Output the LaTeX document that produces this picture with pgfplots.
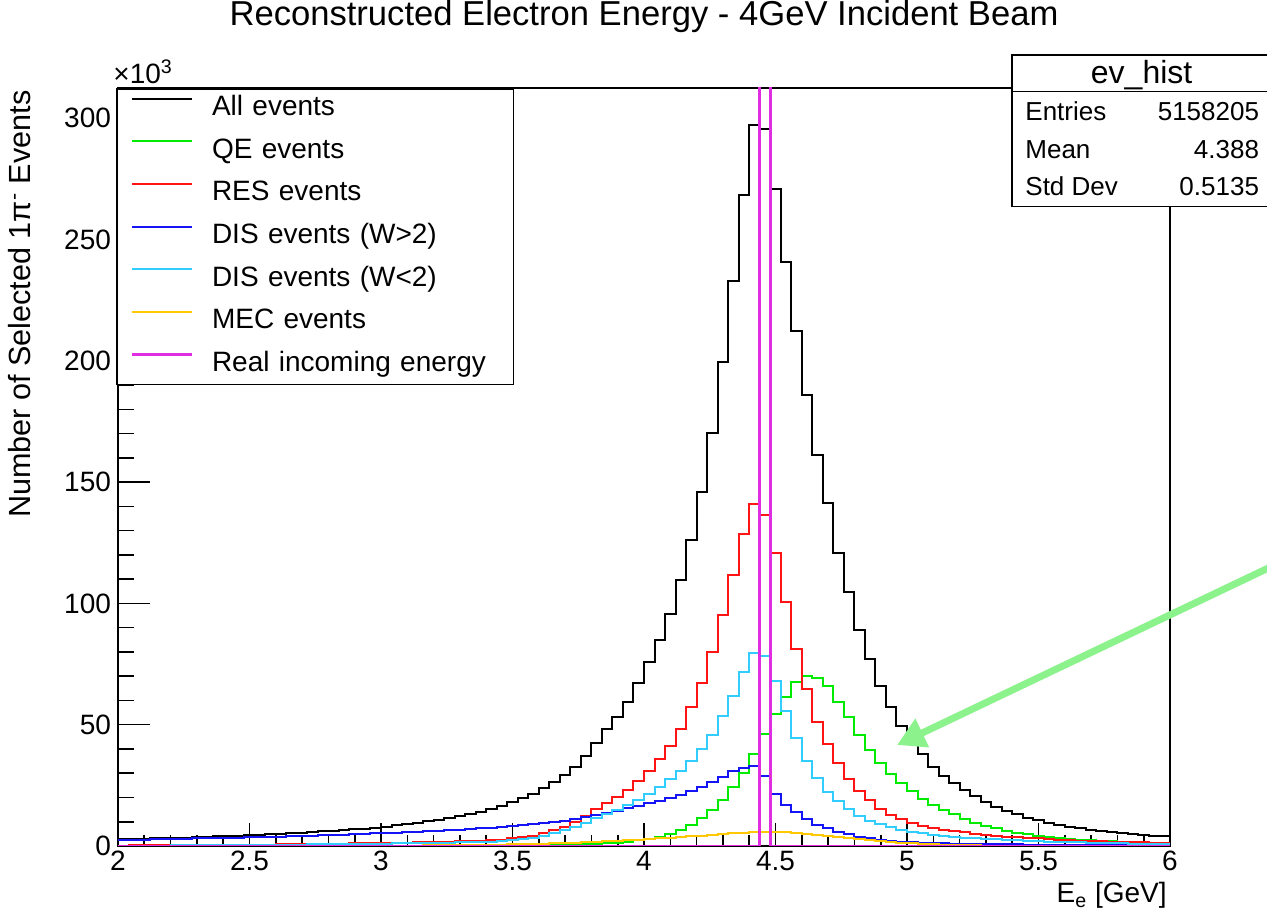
\documentclass[border=0pt]{standalone}
\usepackage{pgfplots}
\pgfplotsset{compat=1.18}
\usepackage{pgfplotstable}
\usepackage{fontspec}
\setmainfont{Liberation Sans}
\usetikzlibrary{arrows.meta}

\definecolor{rgreen}{RGB}{0,235,0}
\definecolor{rred}{RGB}{255,20,20}
\definecolor{rblue}{RGB}{20,20,245}
\definecolor{rcyan}{RGB}{50,205,255}
\definecolor{rorange}{RGB}{255,200,0}
\definecolor{rmagenta}{RGB}{225,45,225}
\definecolor{arrowgreen}{RGB}{140,242,140}

\pgfplotstableread{
x      all    qe     res    dish   disl   mec
2.00   2.8    0.01   0.20   2.4    0.15   0.00
2.04   2.9    0.01   0.21   2.5    0.16   0.00
2.08   3.0    0.01   0.22   2.6    0.17   0.00
2.12   3.1    0.01   0.24   2.7    0.18   0.00
2.16   3.3    0.01   0.26   2.8    0.20   0.00
2.20   3.4    0.01   0.28   2.9    0.22   0.00
2.24   3.5    0.01   0.30   3.0    0.24   0.00
2.28   3.7    0.01   0.33   3.1    0.26   0.01
2.32   3.8    0.01   0.36   3.2    0.28   0.01
2.36   4.0    0.01   0.39   3.3    0.30   0.01
2.40   4.2    0.01   0.42   3.4    0.33   0.01
2.44   4.3    0.01   0.46   3.5    0.36   0.02
2.48   4.5    0.01   0.50   3.6    0.39   0.02
2.52   4.7    0.01   0.55   3.7    0.42   0.02
2.56   4.9    0.01   0.60   3.8    0.46   0.03
2.60   5.1    0.01   0.65   3.9    0.50   0.03
2.64   5.3    0.01   0.70   4.0    0.54   0.04
2.68   5.5    0.01   0.75   4.1    0.58   0.05
2.72   5.7    0.01   0.80   4.2    0.62   0.06
2.76   6.0    0.01   0.86   4.4    0.67   0.07
2.80   6.2    0.01   0.92   4.5    0.72   0.08
2.84   6.5    0.01   0.98   4.7    0.77   0.09
2.88   6.8    0.01   1.04   4.9    0.82   0.10
2.92   7.1    0.01   1.10   5.0    0.88   0.11
2.96   7.5    0.01   1.16   5.2    0.94   0.12
3.00   8.0    0.02   1.22   5.3    1.00   0.14
3.04   8.5    0.02   1.30   5.5    1.06   0.16
3.08   9.0    0.03   1.38   5.7    1.12   0.18
3.12   9.5    0.03   1.46   5.9    1.19   0.20
3.16   10.1   0.04   1.55   6.1    1.26   0.23
3.20   10.7   0.05   1.65   6.3    1.34   0.26
3.24   11.4   0.05   1.76   6.5    1.42   0.30
3.28   12.2   0.06   1.88   6.7    1.50   0.34
3.32   13.1   0.07   2.00   7.0    1.60   0.38
3.36   14.1   0.08   2.15   7.3    1.70   0.43
3.40   15.2   0.10   2.35   7.6    1.82   0.49
3.44   16.5   0.15   2.60   7.9    2.00   0.56
3.48   18.0   0.20   3.10   8.2    2.40   0.64
3.52   19.7   0.25   3.60   8.6    2.90   0.72
3.56   21.6   0.30   4.30   9.0    3.50   0.82
3.60   23.8   0.35   5.30   9.4    4.30   0.93
3.64   26.3   0.40   6.50   9.9    5.30   1.05
3.68   29.2   0.50   8.00   10.5   6.50   1.18
3.72   32.7   0.60   9.80   11.2   7.90   1.33
3.76   37.2   0.70   12.2   12.0   9.50   1.50
3.80   42.6   0.80   15.1   12.8   11.4   1.68
3.84   48.1   1.1    17.6   13.7   13.1   1.88
3.88   53.3   1.4    20.1   14.6   15.0   2.10
3.92   59.5   1.8    23.1   15.6   16.9   2.33
3.96   67.3   2.3    26.8   16.6   19.0   2.58
4.00   75.7   3.0    30.9   17.6   21.3   2.85
4.04   84.8   3.8    35.7   18.7   24.2   3.12
4.08   95.5   4.9    41.2   19.8   27.5   3.40
4.12   109.6  6.6    48.4   21.1   31.0   3.70
4.16   126.1  8.7    57.4   22.6   35.2   4.00
4.20   145.8  11.4   67.3   24.3   40.0   4.30
4.24   170.1  14.8   80.1   26.3   45.8   4.60
4.28   199.6  19.0   95.2   28.6   53.7   4.90
4.32   232.9  24.2   111.9  30.9   61.8   5.20
4.36   268.5  30.2   128.5  32.3   71.8   5.45
4.40   297.2  37.9   140.8  33.0   79.7   5.65
4.44   295.4  46.0   136.3  29.0   78.2   5.80
4.48   271.0  54.5   120.6  21.5   68.0   5.75
4.52   240.6  61.5   100.7  16.9   55.8   5.60
4.56   212.2  67.7   81.0   13.9   44.4   5.35
4.60   185.8  70.1   64.6   11.0   35.2   5.00
4.64   161.3  69.2   51.1   8.7    27.9   4.60
4.68   141.3  66.0   41.9   7.3    22.4   4.20
4.72   120.8  59.5   34.3   5.9    18.5   3.75
4.76   104.6  53.3   27.6   4.8    15.1   3.30
4.80   88.9   45.8   22.7   3.8    12.4   2.85
4.84   77.0   39.6   19.0   3.2    10.4   2.45
4.88   66.0   34.3   15.1   2.5    8.9    2.05
4.92   57.2   29.7   12.8   2.1    7.7    1.70
4.96   49.5   25.8   11.0   1.8    6.6    1.40
5.00   42.3   22.7   9.3    1.5    5.8    1.12
5.04   37.8   19.2   8.2    1.3    5.2    0.90
5.08   32.7   16.9   7.3    1.2    4.5    0.72
5.12   29.0   14.8   6.7    1.1    4.1    0.56
5.16   25.8   13.0   6.2    1.0    3.8    0.44
5.20   23.1   11.0   5.6    0.90   3.5    0.34
5.24   20.6   9.6    5.1    0.85   3.2    0.26
5.28   18.3   8.2    4.7    0.80   2.9    0.20
5.32   16.2   7.3    4.3    0.75   2.7    0.15
5.36   14.4   6.3    3.9    0.70   2.5    0.11
5.40   13.1   5.5    3.6    0.65   2.3    0.08
5.44   11.7   4.8    3.3    0.60   2.1    0.06
5.48   10.7   4.3    3.1    0.58   1.9    0.05
5.52   9.6    3.7    2.8    0.55   1.8    0.04
5.56   8.7    3.3    2.6    0.52   1.7    0.03
5.60   8.0    2.9    2.4    0.50   1.6    0.03
5.64   7.3    2.6    2.2    0.48   1.5    0.02
5.68   6.6    2.3    2.1    0.46   1.4    0.02
5.72   6.2    2.1    1.9    0.44   1.3    0.02
5.76   5.6    1.9    1.8    0.42   1.2    0.01
5.80   5.2    1.8    1.7    0.40   1.1    0.01
5.84   4.8    1.6    1.6    0.38   1.0    0.01
5.88   4.5    1.5    1.5    0.36   0.95   0.01
5.92   4.3    1.4    1.4    0.35   0.90   0.01
5.96   4.0    1.3    1.3    0.34   0.85   0.01
6.00   4.0    1.3    1.3    0.34   0.85   0.01
}\histdata

\pgfplotstableread{
x     real
2.00  0
4.44  5158.2
4.48  0
6.00  0
}\realdata

\begin{document}
\begin{tikzpicture}
\useasboundingbox (-59pt,-33.5pt) rectangle (574.5pt,423pt);
\begin{axis}[
  at={(0pt,0pt)}, anchor=south west,
  scale only axis, width=526pt, height=379pt,
  xmin=2, xmax=6, ymin=0, ymax=312.45,
  clip mode=individual,
  axis line style={line width=0.9pt, black},
  xtick={2,2.5,...,6}, ytick={0,50,...,300},
  xticklabels={2,2.5,3,3.5,4,4.5,5,5.5,6},
  minor x tick num=4, minor y tick num=4,
  xtick pos=bottom, ytick pos=left,
  tick align=inside,
  tick style={line width=0.8pt, black},
  xtick style={/pgfplots/major tick length=11.3pt, /pgfplots/minor tick length=5.5pt},
  ytick style={/pgfplots/major tick length=15.8pt, /pgfplots/minor tick length=8pt},
  scaled y ticks=false,
  /pgf/number format/assume math mode=true,
  ticklabel style={font=\fontsize{14}{16}\selectfont},
  xticklabel style={yshift=1pt},
  title={Reconstructed Electron Energy - 4GeV Incident Beam},
  title style={at={(rel axis cs:0.5,1)}, anchor=base, yshift=25.3pt, font=\fontsize{17.3}{20}\selectfont, inner sep=0pt},
  xlabel={E\textsubscript{e} [GeV]},
  xlabel style={at={(rel axis cs:1,0)}, anchor=base east, yshift=-28.5pt, xshift=-1.5pt, font=\fontsize{14}{16}\selectfont, inner sep=0pt},
  ylabel={Number of Selected 1π\textsuperscript{-} Events},
  ylabel style={at={(rel axis cs:-0.0827,0.997)}, anchor=base east, font=\fontsize{15.3}{18}\selectfont, inner sep=0pt},
  legend cell align=left,
  legend image code/.code={\draw[#1] (0pt,5pt) -- (30pt,5pt);},
  legend style={
    at={(rel axis cs:0,1)}, anchor=north west, xshift=-1pt,
    draw=black, line width=0.8pt, fill=white,
    font=\fontsize{14}{16}\selectfont,
    inner xsep=7pt, inner ysep=3.5pt,
    row sep=8.3pt,
    nodes={inner ysep=0pt, text height=10pt, text depth=3pt, inner xsep=4.7pt, text width=139pt, align=left},
    /tikz/every odd column/.append style={column sep=4.5pt},
  },
]
\addplot[const plot mark left, black, line width=1pt] table[x=x, y=all] {\histdata};
\addlegendentry{All events}
\addplot[const plot mark left, rgreen, line width=1pt] table[x=x, y=qe] {\histdata};
\addlegendentry{QE events}
\addplot[const plot mark left, rred, line width=1pt] table[x=x, y=res] {\histdata};
\addlegendentry{RES events}
\addplot[const plot mark left, rblue, line width=1pt] table[x=x, y=dish] {\histdata};
\addlegendentry{DIS events (W>2)}
\addplot[const plot mark left, rcyan, line width=1pt] table[x=x, y=disl] {\histdata};
\addlegendentry{DIS events (W<2)}
\addplot[const plot mark left, rorange, line width=1pt] table[x=x, y=mec] {\histdata};
\addlegendentry{MEC events}
\addplot[const plot mark left, rmagenta, line width=1.4pt] table[x=x, y=real] {\realdata};
\addlegendentry{Real incoming energy}
\node[anchor=base west, font=\fontsize{14}{16}\selectfont, inner sep=0pt] at ([xshift=-2.5pt, yshift=2pt]rel axis cs:0,1) {×10\textsuperscript{3}};
\end{axis}
% statistics box
\draw[line width=0.8pt, fill=white] (446.9pt,319.7pt) rectangle (577pt,395.5pt);
\draw[line width=0.8pt] (446.9pt,377.2pt) -- (577pt,377.2pt);
\node[anchor=base, font=\fontsize{16}{19}\selectfont, inner sep=0pt] at (511.8pt,381.4pt) {ev\_hist};
\begin{scope}[every node/.style={font=\fontsize{13}{15}\selectfont, inner sep=0pt}]
\node[anchor=base west] at (453.5pt,362.5pt) {Entries};
\node[anchor=base east] at (570.7pt,362.5pt) {5158205};
\node[anchor=base west] at (453.5pt,343.7pt) {Mean};
\node[anchor=base east] at (570.7pt,343.7pt) {4.388};
\node[anchor=base west] at (453.5pt,325pt) {Std Dev};
\node[anchor=base east] at (570.7pt,325pt) {0.5135};
\end{scope}
% annotation arrow
\draw[arrowgreen, line width=3.5pt, -{Triangle[length=14pt, width=15pt]}] (592pt,147pt) -- (389.5pt,50.5pt);
\end{tikzpicture}
\end{document}
